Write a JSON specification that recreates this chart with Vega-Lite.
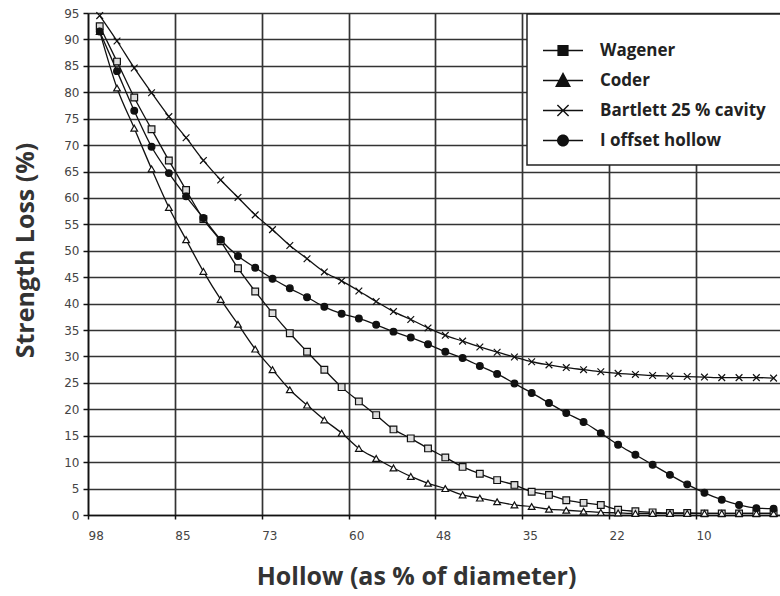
{
"$schema": "https://vega.github.io/schema/vega-lite/v6.json",
"width": 692, "height": 502,
"autosize": {"type": "none"},
"padding": {"left": 88, "top": 13, "right": 0, "bottom": 81},
"background": "white",
"config": {"view": {"stroke": null}, "legend": {"strokeWidth": 1.5}},
"data": {"values": [
{"series":"Wagener","hollow":96.3,"loss":92.5},{"series":"Wagener","hollow":93.79,"loss":85.8},{"series":"Wagener","hollow":91.29,"loss":79.0},{"series":"Wagener","hollow":88.78,"loss":73.0},{"series":"Wagener","hollow":86.27,"loss":67.1},{"series":"Wagener","hollow":83.77,"loss":61.5},{"series":"Wagener","hollow":81.26,"loss":56.0},{"series":"Wagener","hollow":78.75,"loss":51.8},{"series":"Wagener","hollow":76.24,"loss":46.7},{"series":"Wagener","hollow":73.74,"loss":42.3},{"series":"Wagener","hollow":71.23,"loss":38.2},{"series":"Wagener","hollow":68.72,"loss":34.4},{"series":"Wagener","hollow":66.22,"loss":30.9},{"series":"Wagener","hollow":63.71,"loss":27.5},{"series":"Wagener","hollow":61.2,"loss":24.2},{"series":"Wagener","hollow":58.7,"loss":21.5},{"series":"Wagener","hollow":56.19,"loss":18.9},{"series":"Wagener","hollow":53.68,"loss":16.2},{"series":"Wagener","hollow":51.17,"loss":14.5},{"series":"Wagener","hollow":48.67,"loss":12.6},{"series":"Wagener","hollow":46.16,"loss":10.9},{"series":"Wagener","hollow":43.65,"loss":9.1},{"series":"Wagener","hollow":41.15,"loss":7.8},{"series":"Wagener","hollow":38.64,"loss":6.6},{"series":"Wagener","hollow":36.13,"loss":5.7},{"series":"Wagener","hollow":33.63,"loss":4.4},{"series":"Wagener","hollow":31.12,"loss":3.8},{"series":"Wagener","hollow":28.61,"loss":2.8},{"series":"Wagener","hollow":26.1,"loss":2.3},{"series":"Wagener","hollow":23.6,"loss":1.9},{"series":"Wagener","hollow":21.09,"loss":1.0},{"series":"Wagener","hollow":18.58,"loss":0.7},{"series":"Wagener","hollow":16.08,"loss":0.5},{"series":"Wagener","hollow":13.57,"loss":0.4},{"series":"Wagener","hollow":11.06,"loss":0.4},{"series":"Wagener","hollow":8.56,"loss":0.3},{"series":"Wagener","hollow":6.05,"loss":0.3},{"series":"Wagener","hollow":3.54,"loss":0.3},{"series":"Wagener","hollow":1.03,"loss":0.3},{"series":"Wagener","hollow":-1.47,"loss":0.3},
{"series":"Coder","hollow":96.3,"loss":91.5},{"series":"Coder","hollow":93.79,"loss":80.8},{"series":"Coder","hollow":91.29,"loss":73.2},{"series":"Coder","hollow":88.78,"loss":65.5},{"series":"Coder","hollow":86.27,"loss":58.2},{"series":"Coder","hollow":83.77,"loss":52.1},{"series":"Coder","hollow":81.26,"loss":46.1},{"series":"Coder","hollow":78.75,"loss":40.8},{"series":"Coder","hollow":76.24,"loss":36.1},{"series":"Coder","hollow":73.74,"loss":31.4},{"series":"Coder","hollow":71.23,"loss":27.5},{"series":"Coder","hollow":68.72,"loss":23.7},{"series":"Coder","hollow":66.22,"loss":20.8},{"series":"Coder","hollow":63.71,"loss":18.0},{"series":"Coder","hollow":61.2,"loss":15.5},{"series":"Coder","hollow":58.7,"loss":12.6},{"series":"Coder","hollow":56.19,"loss":10.7},{"series":"Coder","hollow":53.68,"loss":8.9},{"series":"Coder","hollow":51.17,"loss":7.3},{"series":"Coder","hollow":48.67,"loss":6.0},{"series":"Coder","hollow":46.16,"loss":5.0},{"series":"Coder","hollow":43.65,"loss":3.8},{"series":"Coder","hollow":41.15,"loss":3.2},{"series":"Coder","hollow":38.64,"loss":2.5},{"series":"Coder","hollow":36.13,"loss":1.9},{"series":"Coder","hollow":33.63,"loss":1.6},{"series":"Coder","hollow":31.12,"loss":1.1},{"series":"Coder","hollow":28.61,"loss":0.9},{"series":"Coder","hollow":26.1,"loss":0.7},{"series":"Coder","hollow":23.6,"loss":0.5},{"series":"Coder","hollow":21.09,"loss":0.4},{"series":"Coder","hollow":18.58,"loss":0.3},{"series":"Coder","hollow":16.08,"loss":0.3},{"series":"Coder","hollow":13.57,"loss":0.3},{"series":"Coder","hollow":11.06,"loss":0.3},{"series":"Coder","hollow":8.56,"loss":0.3},{"series":"Coder","hollow":6.05,"loss":0.3},{"series":"Coder","hollow":3.54,"loss":0.3},{"series":"Coder","hollow":1.03,"loss":0.3},{"series":"Coder","hollow":-1.47,"loss":0.3},
{"series":"Bartlett 25 % cavity","hollow":96.3,"loss":94.5},{"series":"Bartlett 25 % cavity","hollow":93.79,"loss":89.7},{"series":"Bartlett 25 % cavity","hollow":91.29,"loss":84.6},{"series":"Bartlett 25 % cavity","hollow":88.78,"loss":79.9},{"series":"Bartlett 25 % cavity","hollow":86.27,"loss":75.4},{"series":"Bartlett 25 % cavity","hollow":83.77,"loss":71.4},{"series":"Bartlett 25 % cavity","hollow":81.26,"loss":67.1},{"series":"Bartlett 25 % cavity","hollow":78.75,"loss":63.4},{"series":"Bartlett 25 % cavity","hollow":76.24,"loss":60.1},{"series":"Bartlett 25 % cavity","hollow":73.74,"loss":56.8},{"series":"Bartlett 25 % cavity","hollow":71.23,"loss":54.0},{"series":"Bartlett 25 % cavity","hollow":68.72,"loss":51.0},{"series":"Bartlett 25 % cavity","hollow":66.22,"loss":48.5},{"series":"Bartlett 25 % cavity","hollow":63.71,"loss":46.0},{"series":"Bartlett 25 % cavity","hollow":61.2,"loss":44.3},{"series":"Bartlett 25 % cavity","hollow":58.7,"loss":42.4},{"series":"Bartlett 25 % cavity","hollow":56.19,"loss":40.4},{"series":"Bartlett 25 % cavity","hollow":53.68,"loss":38.5},{"series":"Bartlett 25 % cavity","hollow":51.17,"loss":37.0},{"series":"Bartlett 25 % cavity","hollow":48.67,"loss":35.4},{"series":"Bartlett 25 % cavity","hollow":46.16,"loss":34.0},{"series":"Bartlett 25 % cavity","hollow":43.65,"loss":32.9},{"series":"Bartlett 25 % cavity","hollow":41.15,"loss":31.8},{"series":"Bartlett 25 % cavity","hollow":38.64,"loss":30.8},{"series":"Bartlett 25 % cavity","hollow":36.13,"loss":29.9},{"series":"Bartlett 25 % cavity","hollow":33.63,"loss":29.0},{"series":"Bartlett 25 % cavity","hollow":31.12,"loss":28.4},{"series":"Bartlett 25 % cavity","hollow":28.61,"loss":27.9},{"series":"Bartlett 25 % cavity","hollow":26.1,"loss":27.5},{"series":"Bartlett 25 % cavity","hollow":23.6,"loss":27.1},{"series":"Bartlett 25 % cavity","hollow":21.09,"loss":26.8},{"series":"Bartlett 25 % cavity","hollow":18.58,"loss":26.6},{"series":"Bartlett 25 % cavity","hollow":16.08,"loss":26.4},{"series":"Bartlett 25 % cavity","hollow":13.57,"loss":26.3},{"series":"Bartlett 25 % cavity","hollow":11.06,"loss":26.2},{"series":"Bartlett 25 % cavity","hollow":8.56,"loss":26.1},{"series":"Bartlett 25 % cavity","hollow":6.05,"loss":26.0},{"series":"Bartlett 25 % cavity","hollow":3.54,"loss":26.0},{"series":"Bartlett 25 % cavity","hollow":1.03,"loss":26.0},{"series":"Bartlett 25 % cavity","hollow":-1.47,"loss":25.9},
{"series":"I offset hollow","hollow":96.3,"loss":91.5},{"series":"I offset hollow","hollow":93.79,"loss":84.0},{"series":"I offset hollow","hollow":91.29,"loss":76.5},{"series":"I offset hollow","hollow":88.78,"loss":69.7},{"series":"I offset hollow","hollow":86.27,"loss":64.7},{"series":"I offset hollow","hollow":83.77,"loss":60.3},{"series":"I offset hollow","hollow":81.26,"loss":56.2},{"series":"I offset hollow","hollow":78.75,"loss":52.1},{"series":"I offset hollow","hollow":76.24,"loss":49.0},{"series":"I offset hollow","hollow":73.74,"loss":46.8},{"series":"I offset hollow","hollow":71.23,"loss":44.7},{"series":"I offset hollow","hollow":68.72,"loss":42.9},{"series":"I offset hollow","hollow":66.22,"loss":41.2},{"series":"I offset hollow","hollow":63.71,"loss":39.4},{"series":"I offset hollow","hollow":61.2,"loss":38.1},{"series":"I offset hollow","hollow":58.7,"loss":37.2},{"series":"I offset hollow","hollow":56.19,"loss":36.0},{"series":"I offset hollow","hollow":53.68,"loss":34.7},{"series":"I offset hollow","hollow":51.17,"loss":33.6},{"series":"I offset hollow","hollow":48.67,"loss":32.3},{"series":"I offset hollow","hollow":46.16,"loss":30.9},{"series":"I offset hollow","hollow":43.65,"loss":29.7},{"series":"I offset hollow","hollow":41.15,"loss":28.2},{"series":"I offset hollow","hollow":38.64,"loss":26.7},{"series":"I offset hollow","hollow":36.13,"loss":24.9},{"series":"I offset hollow","hollow":33.63,"loss":23.1},{"series":"I offset hollow","hollow":31.12,"loss":21.2},{"series":"I offset hollow","hollow":28.61,"loss":19.3},{"series":"I offset hollow","hollow":26.1,"loss":17.6},{"series":"I offset hollow","hollow":23.6,"loss":15.5},{"series":"I offset hollow","hollow":21.09,"loss":13.3},{"series":"I offset hollow","hollow":18.58,"loss":11.4},{"series":"I offset hollow","hollow":16.08,"loss":9.5},{"series":"I offset hollow","hollow":13.57,"loss":7.6},{"series":"I offset hollow","hollow":11.06,"loss":5.8},{"series":"I offset hollow","hollow":8.56,"loss":4.2},{"series":"I offset hollow","hollow":6.05,"loss":2.9},{"series":"I offset hollow","hollow":3.54,"loss":1.9},{"series":"I offset hollow","hollow":1.03,"loss":1.3},{"series":"I offset hollow","hollow":-1.47,"loss":1.2}
]},
"encoding": {
  "x": {"field": "hollow", "type": "quantitative",
    "scale": {"domain": [-2.4, 98], "reverse": true, "nice": false, "zero": false},
    "axis": {"title": "Hollow (as % of diameter)", "values": [98, 85.4, 72.8, 60.2, 47.6, 35, 22.4, 9.8], "format": ".0f",
      "labelAlign": "left", "labelBaseline": "top", "labelPadding": 11, "tickSize": 4, "labelFlush": false, "labelOverlap": false,
      "labelFont": "DejaVu Sans", "labelFontSize": 12, "labelColor": "#444",
      "titleFont": "Open Sans", "titleFontSize": 25, "titleFontWeight": "bold", "titleColor": "#333",
      "titleX": 328, "titleY": 69, "titleBaseline": "alphabetic", "titleAlign": "center",
      "grid": true, "gridColor": "#333", "gridWidth": 1.7, "domainColor": "#111", "domainWidth": 1.5, "tickColor": "#111", "tickWidth": 1.5}},
  "y": {"field": "loss", "type": "quantitative",
    "scale": {"domain": [0, 95], "nice": false},
    "axis": {"title": "Strength Loss (%)", "values": [0,5,10,15,20,25,30,35,40,45,50,55,60,65,70,75,80,85,90,95],
      "tickSize": 5, "labelPadding": 4, "labelFlush": false, "labelOverlap": false,
      "labelFont": "DejaVu Sans", "labelFontSize": 12, "labelColor": "#444",
      "titleFont": "Open Sans", "titleFontSize": 25, "titleFontWeight": "bold", "titleColor": "#333",
      "titleAngle": 270, "titleX": -55, "titleY": 237, "titleBaseline": "alphabetic", "titleAlign": "center",
      "grid": true, "gridColor": "#333", "gridWidth": 1.7, "domainColor": "#111", "domainWidth": 1.5, "tickColor": "#111", "tickWidth": 1.5}}
},
"layer": [
  {"mark": {"type": "line", "color": "#111", "strokeWidth": 1.3, "interpolate": "monotone"},
   "encoding": {"detail": {"field": "series"}}},
  {"mark": {"type": "point", "stroke": "#111", "strokeWidth": 1.2, "opacity": 1, "size": 45},
   "encoding": {
     "shape": {"field": "series", "type": "nominal", "legend": null,
       "scale": {"domain": ["Wagener", "Coder", "Bartlett 25 % cavity", "I offset hollow"],
                 "range": ["square", "triangle-up", "M-1,-1L1,1M-1,1L1,-1", "circle"]}},
     "fill": {"field": "series", "type": "nominal", "legend": null,
       "scale": {"domain": ["Wagener", "Coder", "Bartlett 25 % cavity", "I offset hollow"],
                 "range": ["#dddddd", "#ffffff", "transparent", "#111111"]}}
   }},
  {"mark": {"type": "point", "filled": true, "fill": "#111", "opacity": 0},
   "encoding": {
     "shape": {"field": "series", "type": "nominal",
       "scale": {"domain": ["Wagener", "Coder", "Bartlett 25 % cavity", "I offset hollow"],
                 "range": [
                   "M-1,-0.035H1V0.035H-1ZM-0.28,-0.28H0.28V0.28H-0.28Z",
                   "M-1,-0.035H1V0.035H-1ZM0,-0.42L0.4,0.32L-0.4,0.32Z",
                   "M-1,-0.035H1V0.035H-1ZM-0.255,-0.305L0.305,0.255L0.255,0.305L-0.305,-0.255ZM-0.255,0.305L-0.305,0.255L0.255,-0.305L0.305,-0.255Z",
                   "M-1,-0.035H1V0.035H-1ZM-0.3,0A0.3,0.3,0,1,1,0.3,0A0.3,0.3,0,1,1,-0.3,0Z"]},
       "legend": {"orient": "none", "legendX": 439, "legendY": 1, "direction": "vertical", "columns": 1,
         "title": " ", "titleFontSize": 10, "titlePadding": 2, "padding": 16,
         "fillColor": "white", "strokeColor": "#222",
         "labelFont": "Open Sans", "labelFontWeight": "bold", "labelFontSize": 17, "labelColor": "#222", "labelLimit": 300,
         "labelOffset": 17, "clipHeight": 17, "rowPadding": 12,
         "symbolSize": 1600, "symbolStrokeWidth": 0, "symbolFillColor": "#111", "symbolStrokeColor": "transparent", "symbolOpacity": 1}}
   }}
],
"resolve": {"scale": {"shape": "independent", "fill": "independent"}}
}
